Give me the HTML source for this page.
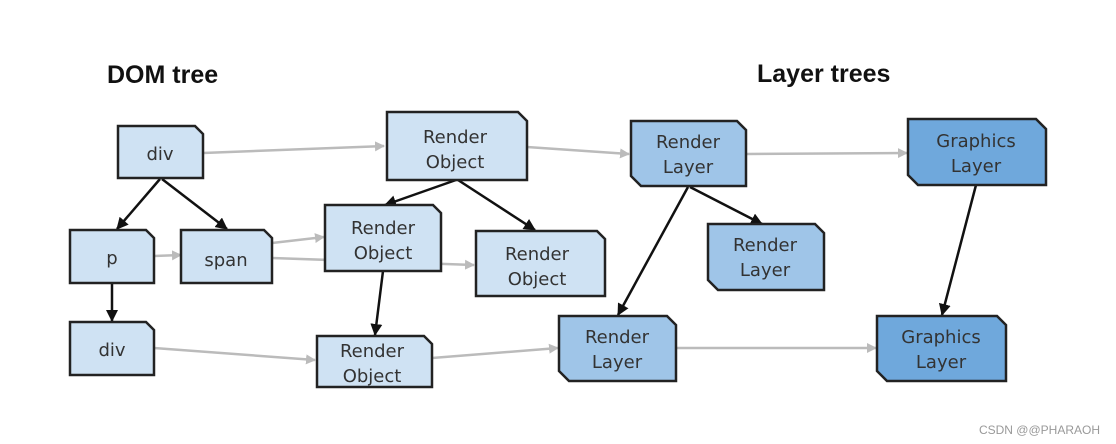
<!DOCTYPE html>
<html><head><style>body{margin:0;background:#fff}svg{display:block}</style></head><body>
<svg width="1116" height="444" viewBox="0 0 1116 444" xmlns="http://www.w3.org/2000/svg" font-family="'DejaVu Sans','Liberation Sans',sans-serif">
<defs>
<marker id="g" markerWidth="10" markerHeight="10" refX="9" refY="5" orient="auto" markerUnits="userSpaceOnUse"><path d="M0,0 L10,5 L0,10 z" fill="#bbb"/></marker>
<marker id="b" markerWidth="12" markerHeight="12" refX="11" refY="6" orient="auto" markerUnits="userSpaceOnUse"><path d="M0,0 L12,6 L0,12 z" fill="#111"/></marker>
</defs>
<text x="107" y="83" font-family="'Liberation Sans',sans-serif" font-weight="bold" font-size="25" fill="#111">DOM tree</text>
<text x="757" y="82" font-family="'Liberation Sans',sans-serif" font-weight="bold" font-size="25" fill="#111">Layer trees</text>
<g stroke="#bbb" stroke-width="2.5" fill="none" marker-end="url(#g)">
<line x1="203" y1="153" x2="384" y2="146"/>
<line x1="272" y1="243" x2="324" y2="237"/>
<line x1="154" y1="256" x2="181" y2="255" marker-end=""/>
<line x1="272" y1="258" x2="474" y2="265"/>
<line x1="527" y1="147" x2="629" y2="154"/>
<line x1="154" y1="348" x2="315" y2="360"/>
<line x1="432" y1="358" x2="558" y2="348"/>
<line x1="746" y1="154" x2="907" y2="153"/>
<line x1="676" y1="348" x2="876" y2="348"/>
</g>
<g stroke="#111" stroke-width="2.5" fill="none" marker-end="url(#b)">
<line x1="160" y1="179" x2="117" y2="229"/>
<line x1="162" y1="179" x2="227" y2="229"/>
<line x1="112" y1="283" x2="112" y2="321"/>
<line x1="456" y1="180" x2="385" y2="205"/>
<line x1="458" y1="180" x2="535" y2="230"/>
<line x1="383" y1="271" x2="375" y2="335"/>
<line x1="688" y1="187" x2="618" y2="315"/>
<line x1="690" y1="187" x2="762" y2="224"/>
<line x1="976" y1="185" x2="942" y2="315"/>
</g>
<g stroke="#222" stroke-width="2.5" fill="#cfe2f3">
<path d="M118,126 H195 L203,134 V178 H118 Z"/>
<path d="M70,230 H146 L154,238 V283 H70 Z"/>
<path d="M181,230 H264 L272,238 V283 H181 Z"/>
<path d="M70,322 H146 L154,330 V375 H70 Z"/>
<path d="M387,112 H518 L527,121 V180 H387 Z"/>
<path d="M325,205 H433 L441,213 V271 H325 Z"/>
<path d="M476,231 H597 L605,239 V296 H476 Z"/>
<path d="M317,336 H424 L432,344 V387 H317 Z"/>
</g>
<g stroke="#222" stroke-width="2.5" fill="#9fc5e8">
<path d="M631,121 H737 L746,130 V186 H641 L631,176 Z"/>
<path d="M708,224 H815 L824,233 V290 H718 L708,280 Z"/>
<path d="M559,316 H667 L676,325 V381 H569 L559,371 Z"/>
</g>
<g stroke="#222" stroke-width="2.5" fill="#6fa8dc">
<path d="M908,119 H1036 L1046,129 V185 H918 L908,175 Z"/>
<path d="M877,316 H997 L1006,325 V381 H887 L877,371 Z"/>
</g>
<g font-size="18" fill="#333" text-anchor="middle">
<text x="160" y="160">div</text>
<text x="112" y="264">p</text>
<text x="226" y="266">span</text>
<text x="112" y="356">div</text>
<text x="455" y="143">Render</text><text x="455" y="168">Object</text>
<text x="383" y="234">Render</text><text x="383" y="259">Object</text>
<text x="537" y="260">Render</text><text x="537" y="285">Object</text>
<text x="372" y="357">Render</text><text x="372" y="382">Object</text>
<text x="688" y="148">Render</text><text x="688" y="173">Layer</text>
<text x="765" y="251">Render</text><text x="765" y="276">Layer</text>
<text x="617" y="343">Render</text><text x="617" y="368">Layer</text>
<text x="976" y="147">Graphics</text><text x="976" y="172">Layer</text>
<text x="941" y="343">Graphics</text><text x="941" y="368">Layer</text>
</g>
<text x="1100" y="434" font-size="12" fill="#999" text-anchor="end" font-family="'Liberation Sans',sans-serif">CSDN @@PHARAOH</text>
</svg>
</body></html>
